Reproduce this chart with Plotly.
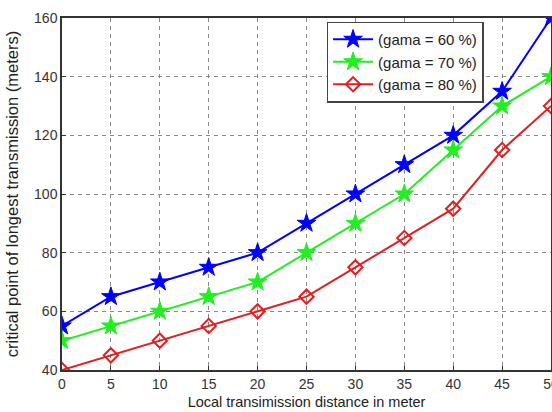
import plotly.graph_objects as go

x_vals = [0, 5, 10, 15, 20, 25, 30, 35, 40, 45, 50]
gama60 = [55, 65, 70, 75, 80, 90, 100, 110, 120, 135, 160]
gama70 = [50, 55, 60, 65, 70, 80, 90, 100, 115, 130, 140]
gama80 = [40, 45, 50, 55, 60, 65, 75, 85, 95, 115, 130]
names = ["(gama = 60 %)", "(gama = 70 %)", "(gama = 80 %)"]
x_ticks = [0, 5, 10, 15, 20, 25, 30, 35, 40, 45, 50]
y_ticks = [40, 60, 80, 100, 120, 140, 160]

fig = go.Figure()
fig.add_trace(go.Scatter(x=x_vals, y=gama60, name=names[0], mode="lines+markers",
                         line=dict(color="#0000ff", width=2),
                         marker=dict(symbol="star", size=14, color="#0000ff",
                                     line=dict(color="#0000ff", width=1))))
fig.add_trace(go.Scatter(x=x_vals, y=gama70, name=names[1], mode="lines+markers",
                         line=dict(color="#22ee22", width=2),
                         marker=dict(symbol="star", size=14, color="#22ee22",
                                     line=dict(color="#22ee22", width=1))))
fig.add_trace(go.Scatter(x=x_vals, y=gama80, name=names[2], mode="lines+markers",
                         line=dict(color="#e02020", width=2),
                         marker=dict(symbol="diamond-open", size=11, color="#e02020",
                                     line=dict(color="#e02020", width=2))))

axis_common = dict(showline=True, linecolor="#333333", linewidth=1.5, mirror=True,
                   showgrid=True, gridcolor="#888888", griddash="4px,4px", gridwidth=1,
                   ticks="inside", ticklen=4, tickcolor="#333333",
                   tickfont=dict(family="Liberation Sans, Arial", size=14, color="#333333"),
                   ticklabeloverflow="allow",
                   zeroline=False)

fig.update_layout(
    width=552, height=412,
    margin=dict(l=62, r=1, t=18, b=42, autoexpand=False),
    paper_bgcolor="white", plot_bgcolor="white",
    font=dict(family="Liberation Sans, Arial", color="#222222"),
    xaxis=dict(range=[0, 50], tickvals=x_ticks, **axis_common,
               title=dict(text="Local transimission distance in meter",
                          font=dict(size=14.5, color="#222222"), standoff=6)),
    yaxis=dict(range=[40, 160], tickvals=y_ticks, **axis_common,
               title=dict(text="critical point of longest transmission (meters)",
                          font=dict(size=16.5, color="#222222"), standoff=11)),
    legend=dict(x=0.541, y=0.99, xanchor="left", yanchor="top",
                bgcolor="white", bordercolor="#444444", borderwidth=1.5,
                font=dict(size=15, color="#222222"), tracegroupgap=0,
                itemwidth=40),
    showlegend=True,
)

fig.write_html("out.html", config={"displayModeBar": False},
               post_script="document.body.style.margin='0';")
